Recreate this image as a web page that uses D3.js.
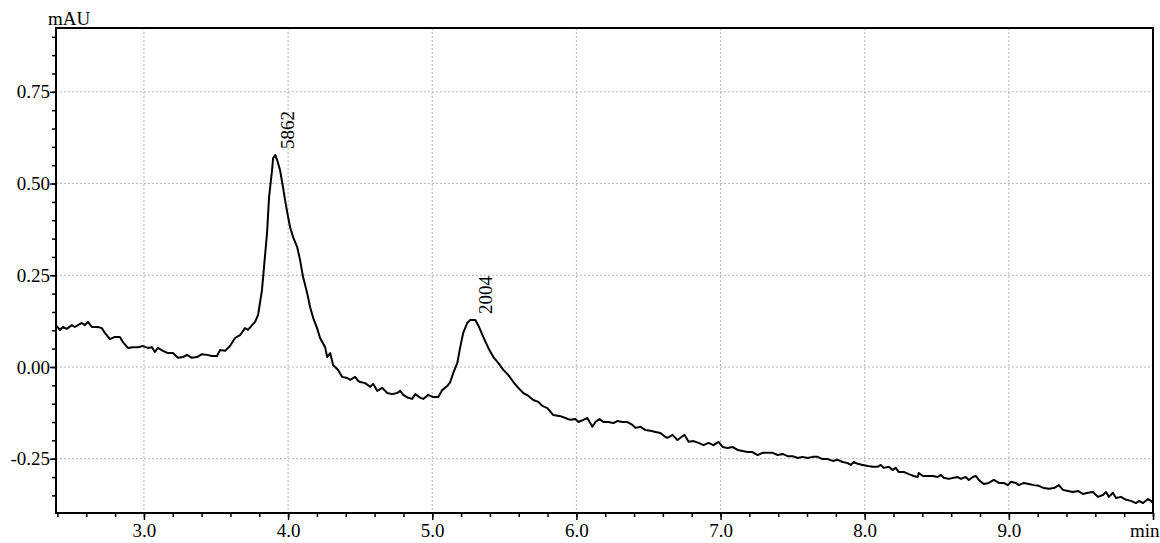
<!DOCTYPE html>
<html>
<head>
<meta charset="utf-8">
<script src="https://cdn.jsdelivr.net/npm/d3@7.9.0/dist/d3.min.js"></script>
<style>
  body { margin: 0; background: #fff; }
  .grid line { stroke: #b4b4b4; stroke-width: 1; stroke-dasharray: 2,2; }
</style>
</head>
<body>
<svg id="chart" width="1160" height="543"></svg>
<script>
// 1. Chromatogram readings (retention time in min, absorbance in mAU).
const time = [
  2.389, 2.417, 2.438, 2.465, 2.5, 2.521, 2.542, 2.569, 2.590, 2.611, 2.639, 2.681, 2.708, 2.729, 2.764, 2.799,
  2.833, 2.854, 2.889, 2.924, 2.958, 2.993, 3.028, 3.056, 3.076, 3.097, 3.132, 3.167, 3.201, 3.236, 3.271, 3.299,
  3.333, 3.368, 3.403, 3.438, 3.472, 3.507, 3.528, 3.563, 3.597, 3.632, 3.667, 3.701, 3.722, 3.75, 3.771, 3.792,
  3.819, 3.833, 3.854, 3.868, 3.889, 3.896, 3.910, 3.924, 3.944, 3.965, 3.979, 4.0, 4.014, 4.035, 4.063, 4.083,
  4.104, 4.132, 4.153, 4.174, 4.201, 4.222, 4.257, 4.271, 4.292, 4.313, 4.347, 4.375, 4.410, 4.431, 4.465, 4.486,
  4.5, 4.535, 4.569, 4.590, 4.618, 4.653, 4.688, 4.722, 4.757, 4.778, 4.799, 4.833, 4.861, 4.882, 4.917, 4.938,
  4.972, 5.007, 5.042, 5.069, 5.104, 5.125, 5.146, 5.174, 5.194, 5.215, 5.243, 5.264, 5.299, 5.319, 5.354, 5.389,
  5.424, 5.458, 5.493, 5.528, 5.563, 5.597, 5.632, 5.667, 5.701, 5.736, 5.764, 5.799,
  5.840, 5.889, 5.924, 5.958, 5.993, 6.014, 6.049, 6.076, 6.111, 6.132, 6.160, 6.188, 6.222, 6.257, 6.285, 6.319,
  6.354, 6.389, 6.410, 6.444, 6.479, 6.514, 6.549, 6.583, 6.618, 6.632, 6.667, 6.701, 6.722, 6.75, 6.778, 6.813,
  6.847, 6.882, 6.917, 6.951, 6.986, 7.014, 7.049, 7.083, 7.118, 7.153, 7.188, 7.222, 7.257, 7.292, 7.326, 7.361,
  7.396, 7.431, 7.465, 7.5, 7.535, 7.569, 7.604, 7.639, 7.674, 7.708, 7.743, 7.778, 7.813, 7.847, 7.882,
  7.903, 7.924, 7.951, 7.986, 8.021, 8.056, 8.090, 8.111, 8.132, 8.167, 8.194, 8.215, 8.236, 8.271, 8.306, 8.340,
  8.368, 8.375, 8.403, 8.438, 8.472, 8.507, 8.528, 8.549, 8.583, 8.618, 8.646, 8.667, 8.701, 8.722, 8.75, 8.771,
  8.792, 8.826, 8.861, 8.896, 8.931, 8.965, 8.993, 9.014, 9.049, 9.069, 9.104, 9.139, 9.174, 9.208, 9.243, 9.278,
  9.313, 9.347, 9.375, 9.410, 9.444, 9.479, 9.514, 9.549, 9.583, 9.618, 9.653, 9.674, 9.694, 9.722, 9.743, 9.778,
  9.813, 9.847, 9.882, 9.903, 9.931, 9.965, 9.986, 10.0
];
const signal = [
  0.114, 0.101, 0.109, 0.104, 0.114, 0.109, 0.114, 0.120, 0.114, 0.123, 0.109, 0.109, 0.106, 0.093, 0.076, 0.082,
  0.082, 0.068, 0.052, 0.054, 0.054, 0.057, 0.052, 0.054, 0.041, 0.052, 0.044, 0.038, 0.038, 0.025, 0.027, 0.033,
  0.025, 0.027, 0.035, 0.033, 0.030, 0.030, 0.046, 0.044, 0.057, 0.079, 0.087, 0.106, 0.101, 0.114, 0.123, 0.142,
  0.210, 0.272, 0.365, 0.463, 0.537, 0.569, 0.578, 0.564, 0.537, 0.490, 0.455, 0.409, 0.381, 0.354, 0.327, 0.292,
  0.245, 0.202, 0.163, 0.134, 0.106, 0.079, 0.054, 0.027, 0.038, 0.005, -0.008, -0.027, -0.030, -0.035, -0.027, -0.038,
  -0.041, -0.044, -0.054, -0.046, -0.065, -0.057, -0.071, -0.074, -0.071, -0.065, -0.076, -0.084, -0.087, -0.074, -0.084, -0.087,
  -0.076, -0.082, -0.082, -0.063, -0.052, -0.041, -0.016, 0.011, 0.054, 0.093, 0.120, 0.128, 0.128, 0.114, 0.082, 0.052,
  0.027, 0.011, -0.008, -0.022, -0.041, -0.057, -0.071, -0.079, -0.090, -0.095, -0.106, -0.112,
  -0.131, -0.134, -0.139, -0.144, -0.142, -0.150, -0.144, -0.139, -0.163, -0.150, -0.142, -0.150, -0.150, -0.153, -0.147, -0.150,
  -0.150, -0.158, -0.166, -0.163, -0.172, -0.174, -0.177, -0.180, -0.191, -0.193, -0.185, -0.199, -0.193, -0.185, -0.204, -0.202,
  -0.207, -0.213, -0.207, -0.213, -0.204, -0.218, -0.221, -0.218, -0.226, -0.229, -0.232, -0.232, -0.240, -0.234, -0.234, -0.234,
  -0.240, -0.237, -0.243, -0.243, -0.248, -0.245, -0.248, -0.245, -0.245, -0.251, -0.251, -0.256, -0.253, -0.259, -0.262,
  -0.267, -0.259, -0.264, -0.267, -0.270, -0.272, -0.272, -0.267, -0.275, -0.272, -0.281, -0.275, -0.286, -0.286, -0.292, -0.297,
  -0.300, -0.289, -0.297, -0.297, -0.297, -0.300, -0.294, -0.302, -0.305, -0.302, -0.300, -0.305, -0.300, -0.308, -0.300, -0.297,
  -0.308, -0.319, -0.316, -0.308, -0.316, -0.316, -0.322, -0.313, -0.316, -0.322, -0.316, -0.319, -0.322, -0.324, -0.330, -0.332,
  -0.330, -0.322, -0.335, -0.338, -0.341, -0.338, -0.346, -0.343, -0.341, -0.354, -0.349, -0.341, -0.354, -0.343, -0.357, -0.354,
  -0.362, -0.365, -0.371, -0.365, -0.371, -0.360, -0.365, -0.371
];

// 2. Peak annotations (apex time, apex value, label text).
const peakTimes = [3.91, 5.28];
const peakValues = [0.578, 0.128];
const peakLabels = ['5862', '2004'];

// 3. Tick values and labels.
const xTicks = [3, 4, 5, 6, 7, 8, 9, 10];
const xTickLabels = ['3.0', '4.0', '5.0', '6.0', '7.0', '8.0', '9.0', 'min'];
const xMinorTicks = d3.range(12, 51).map((d) => d / 5);   // every 0.2 min
const yTicks = [-0.25, 0, 0.25, 0.5, 0.75];
const yTickLabels = ['-0.25', '0.00', '0.25', '0.50', '0.75'];
const yMinorTicks = d3.range(-7, 19).map((d) => d / 20);  // every 0.05 mAU
const yUnit = 'mAU';

const serif = '"Liberation Serif", "Times New Roman", serif';
const fontSize = 19;

// 4. Scales
const margin = { left: 56, right: 1153, top: 28, bottom: 513 };
const x = d3.scaleLinear().domain([2.39, 10.0]).range([margin.left, margin.right]);
const y = d3.scaleLinear().domain([-0.398, 0.924]).range([margin.bottom, margin.top]);

const svg = d3.select('#chart');

// 5. Dotted grid at the major ticks
const grid = svg.append('g').attr('class', 'grid');
grid.selectAll('.gx')
  .data(xTicks.filter((d) => d < 10))
  .join('line')
  .attr('x1', (d) => x(d)).attr('x2', (d) => x(d))
  .attr('y1', margin.top).attr('y2', margin.bottom);
grid.selectAll('.gy')
  .data(yTicks)
  .join('line')
  .attr('x1', margin.left).attr('x2', margin.right)
  .attr('y1', (d) => y(d)).attr('y2', (d) => y(d));

// 6. Axes (minor ticks first, then labelled major ticks)
function styleAxis(g) {
  g.select('.domain').remove();
  g.attr('font-family', serif).attr('font-size', fontSize);
  g.selectAll('.tick line').attr('stroke', '#000').attr('stroke-width', 1.5);
  g.selectAll('text').attr('fill', '#000');
}

svg.append('g')
  .attr('transform', `translate(0,${margin.bottom})`)
  .call(d3.axisBottom(x).tickValues(xMinorTicks).tickSize(4).tickFormat(''))
  .call(styleAxis);
const xAxis = svg.append('g')
  .attr('transform', `translate(0,${margin.bottom})`)
  .call(d3.axisBottom(x).tickValues(xTicks).tickSize(7).tickPadding(4)
    .tickFormat((d, i) => xTickLabels[i]))
  .call(styleAxis);
// the unit sits at the very end, pulled inside the page
xAxis.selectAll('.tick text')
  .filter((d) => d === 10)
  .attr('text-anchor', 'end')
  .attr('dx', 6);

svg.append('g')
  .attr('transform', `translate(${margin.left},0)`)
  .call(d3.axisLeft(y).tickValues(yMinorTicks).tickSize(4).tickFormat(''))
  .call(styleAxis);
svg.append('g')
  .attr('transform', `translate(${margin.left},0)`)
  .call(d3.axisLeft(y).tickValues(yTicks).tickSize(6).tickPadding(0)
    .tickFormat((d, i) => yTickLabels[i]))
  .call(styleAxis);

// 7. Frame
svg.append('rect')
  .attr('x', margin.left).attr('y', margin.top)
  .attr('width', margin.right - margin.left).attr('height', margin.bottom - margin.top)
  .attr('fill', 'none')
  .attr('stroke', '#000')
  .attr('stroke-width', 2);

svg.append('text')
  .attr('x', 48).attr('y', 25)
  .attr('font-family', serif).attr('font-size', fontSize)
  .text(yUnit);

// 8. The trace
const points = time.map((t, i) => [t, signal[i]]);
const line = d3.line().x((d) => x(d[0])).y((d) => y(d[1]));
svg.append('path')
  .attr('d', line(points))
  .attr('fill', 'none')
  .attr('stroke', '#000')
  .attr('stroke-width', 2)
  .attr('stroke-linejoin', 'round');

// 9. Rotated peak labels
peakTimes.forEach((t, i) => {
  svg.append('text')
    .attr('transform', `translate(${x(t) + 19},${y(peakValues[i]) - 6}) rotate(-90)`)
    .attr('font-family', serif).attr('font-size', fontSize)
    .text(peakLabels[i]);
});
</script>
</body>
</html>
